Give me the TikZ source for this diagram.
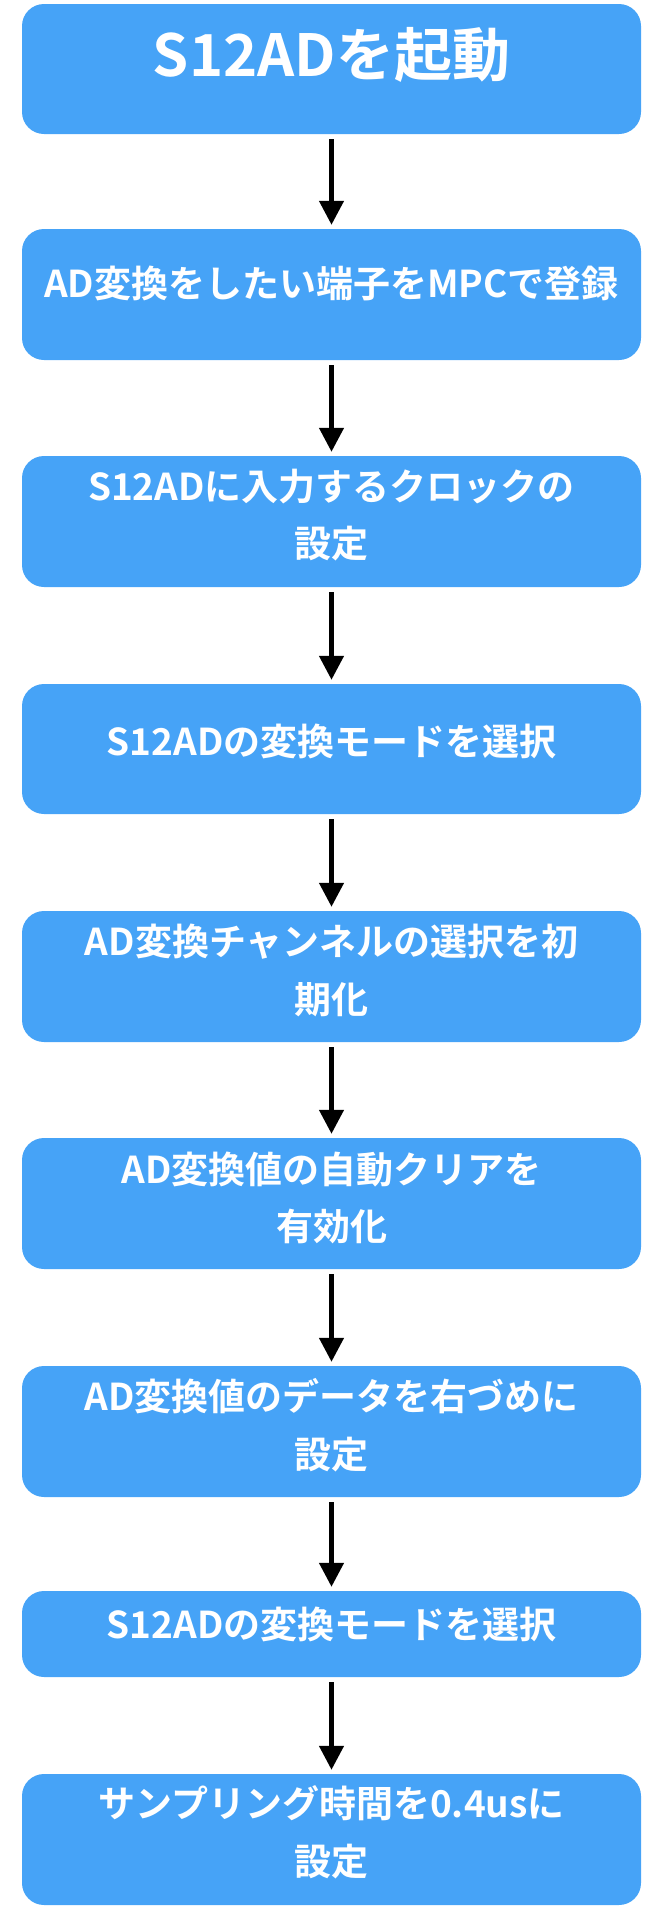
\documentclass[tikz,border=0pt]{standalone}
\usepackage{fontspec}
\newfontfamily\jp{Noto Sans CJK JP}[BoldFont={Noto Sans CJK JP Bold}]
\usetikzlibrary{arrows.meta}
\definecolor{boxblue}{RGB}{70,163,247}
\tikzset{
  stepbox/.style={fill=boxblue, draw=none, rounded corners=22pt, minimum width=619pt, inner sep=0pt},
  txt/.style={text=white, inner sep=0pt, anchor=base, font=\jp\bfseries\fontsize{37}{44}\selectfont},
  bigtxt/.style={txt, font=\jp\bfseries\fontsize{58}{66}\selectfont},
  flow/.style={line width=4.5pt, -{Triangle[width=24pt,length=24pt]}, shorten <=5pt, shorten >=4pt}
}
\begin{document}
\begin{tikzpicture}[x=1pt,y=-1pt]
\useasboundingbox (0,0) rectangle (656,1912);
% boxes
\node[stepbox, minimum height=130pt] (b1) at (331.5,69) {};
\node[stepbox, minimum height=131pt] (b2) at (331.5,294.5) {};
\node[stepbox, minimum height=131pt] (b3) at (331.5,521.5) {};
\node[stepbox, minimum height=130pt] (b4) at (331.5,749) {};
\node[stepbox, minimum height=131pt] (b5) at (331.5,976.5) {};
\node[stepbox, minimum height=131pt] (b6) at (331.5,1203.5) {};
\node[stepbox, minimum height=131pt] (b7) at (331.5,1431.5) {};
\node[stepbox, minimum height=86pt] (b8) at (331.5,1634) {};
\node[stepbox, minimum height=131pt] (b9) at (331.5,1839.5) {};
% texts
\node[bigtxt] (t1) at (331.5,76.5) {S12ADを起動};
\node[txt] (t2) at (331.5,297.6) {AD変換をしたい端子をMPCで登録};
\node[txt] (t3a) at (331.5,500.6) {S12ADに入力するクロックの};
\node[txt] (t3b) at (331.5,557.6) {設定};
\node[txt] (t4) at (331.5,755.6) {S12ADの変換モードを選択};
\node[txt] (t5a) at (331.5,955.6) {AD変換チャンネルの選択を初};
\node[txt] (t5b) at (331.5,1013.6) {期化};
\node[txt] (t6a) at (331.5,1183.6) {AD変換値の自動クリアを};
\node[txt] (t6b) at (331.5,1240.6) {有効化};
\node[txt] (t7a) at (331.5,1410.6) {AD変換値のデータを右づめに};
\node[txt] (t7b) at (331.5,1468.6) {設定};
\node[txt] (t8) at (331.5,1638.6) {S12ADの変換モードを選択};
\node[txt] (t9a) at (331.5,1817.6) {サンプリング時間を0.4usに};
\node[txt] (t9b) at (331.5,1875.6) {設定};
% arrows
\foreach \a/\b in {b1/b2,b2/b3,b3/b4,b4/b5,b5/b6,b6/b7,b7/b8,b8/b9}
  \draw[flow] (\a.south) -- (\b.north);
\end{tikzpicture}
\end{document}
